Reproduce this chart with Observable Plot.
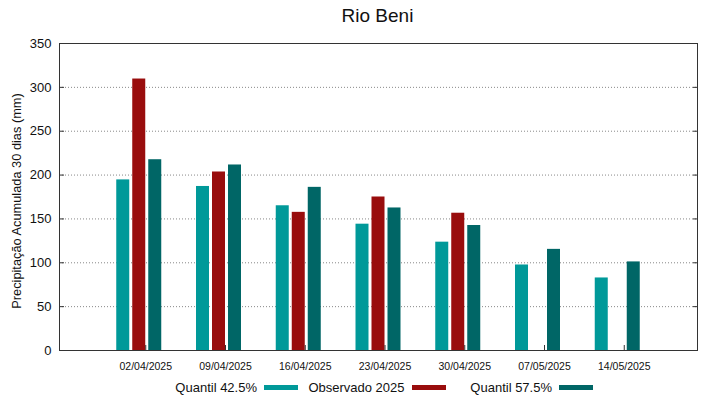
<!DOCTYPE html>
<html>
<head>
<meta charset="utf-8">
<script src="https://cdn.jsdelivr.net/npm/d3@7"></script>
<script src="https://cdn.jsdelivr.net/npm/@observablehq/plot@0.6"></script>
<style>
  html, body { margin: 0; padding: 0; background: #fff; }
  body { width: 719px; height: 399px; overflow: hidden; font-family: "Liberation Sans", Arial, sans-serif; }
  #title { height: 34px; line-height: 32px; font-size: 19px; text-align: center; padding-left: 36px; box-sizing: border-box; width: 719px; color: #111; }
  #legend { height: 24px; position: relative; font-size: 13px; color: #111; }
  .item { position: absolute; top: 0; height: 24px; display: flex; align-items: center; }
  .item span.t { display: inline-block; text-align: right; }
  .item span.s { display: inline-block; width: 34px; height: 5px; margin-left: 7px; }
</style>
</head>
<body>
<div id="title">Rio Beni</div>
<div id="chart"></div>
<div id="legend"></div>
<script>
const dates = ["02/04/2025", "09/04/2025", "16/04/2025", "23/04/2025", "30/04/2025", "07/05/2025", "14/05/2025"];
const seriesNames = ["Quantil 42.5%", "Observado 2025", "Quantil 57.5%"];
const seriesColors = ["#009999", "#990d0d", "#006666"];
const q425 = [194.5, 187, 165, 144, 123.5, 97.5, 82.7];
const obs = [309.5, 203.5, 157.5, 175, 156.5, null, null];
const q575 = [217.5, 211.5, 186, 162.5, 142.5, 115.3, 101];
const yTicks = [0, 50, 100, 150, 200, 250, 300, 350];
const gridTicks = [50, 100, 150, 200, 250, 300];
const yLabel = "Precipitação Acumulada 30 dias (mm)";

const seriesValues = [q425, obs, q575];
const rows = seriesValues.map((vals, s) =>
  dates.map((d, i) => ({date: d, value: vals[i], series: seriesNames[s]})).filter(r => r.value != null)
);

const offsets = [-16, 0, 16];

const chart = Plot.plot({
  width: 719,
  height: 341,
  marginLeft: 59,
  marginRight: 22,
  marginTop: 9,
  marginBottom: 25,
  style: {fontFamily: "Liberation Sans, Arial, sans-serif", color: "#111", background: "#fff"},
  x: {type: "band", domain: dates, paddingInner: 0.837, paddingOuter: 0.9185, align: 0.5, round: false},
  y: {domain: [0, 350]},
  marks: [
    Plot.ruleY(gridTicks, {stroke: "#888", strokeDasharray: "1,2", strokeWidth: 1}),
    ...rows.map((data, s) =>
      Plot.barY(data, {x: "date", y: "value", fill: seriesColors[s], dx: offsets[s]})
    ),
    Plot.axisY({ticks: yTicks, tickSize: -5, tickPadding: 13, fontSize: 13, label: null, stroke: "#333"}),
    Plot.axisY({anchor: "right", ticks: yTicks, tickSize: -5, tickFormat: () => "", label: null, stroke: "#333"}),
    Plot.axisX({tickSize: -5, tickPadding: 17, fontSize: 10.5, label: null, stroke: "#333", textAnchor: "middle", dx: 6.5}),
    Plot.frame({stroke: "#333", strokeWidth: 1}),
    Plot.text([yLabel], {text: d => d, frameAnchor: "left", rotate: -90, dx: -43, dy: 4, fontSize: 12.8, fill: "#111", textAnchor: "middle"})
  ]
});
document.getElementById("chart").appendChild(chart);

// Legend
const legend = document.getElementById("legend");
const legendLeft = 150, colW = 147.5, textW = 107;
seriesNames.forEach((name, i) => {
  const item = document.createElement("div");
  item.className = "item";
  item.style.left = (legendLeft + i * colW) + "px";
  const t = document.createElement("span");
  t.className = "t";
  t.style.width = textW + "px";
  t.textContent = name;
  const s = document.createElement("span");
  s.className = "s";
  s.style.background = seriesColors[i];
  item.appendChild(t);
  item.appendChild(s);
  legend.appendChild(item);
});
</script>
</body>
</html>
